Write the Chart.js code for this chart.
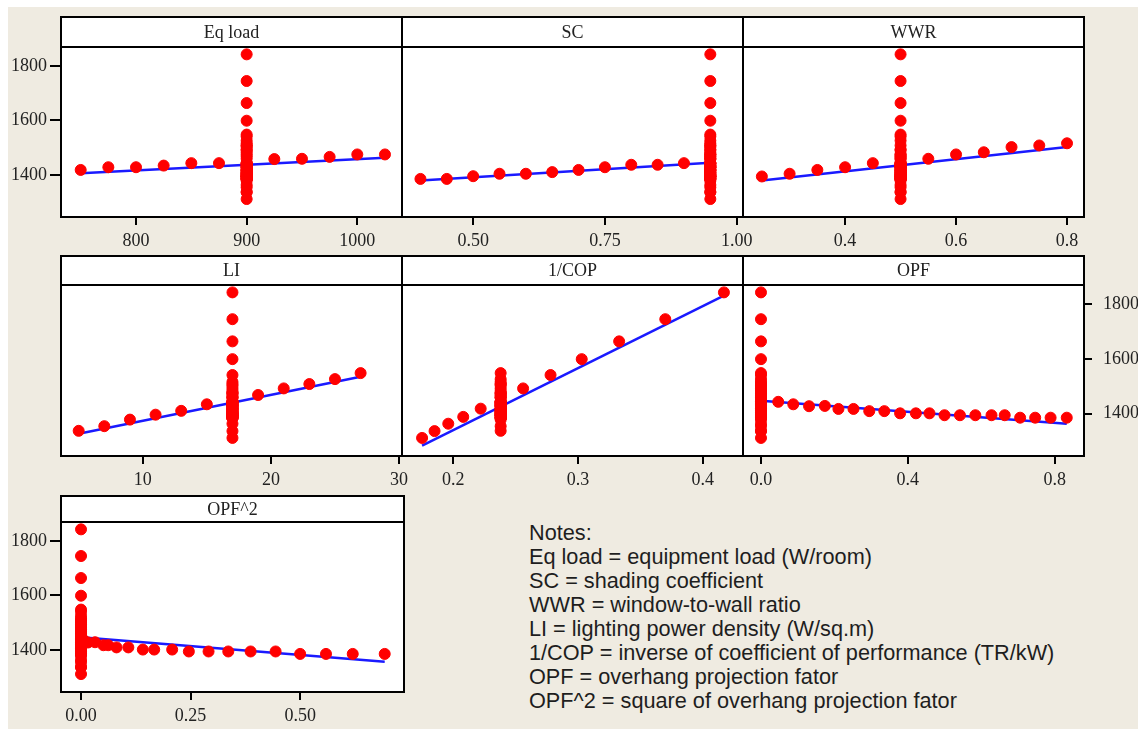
<!DOCTYPE html>
<html>
<head>
<meta charset="utf-8">
<script src="https://cdn.jsdelivr.net/npm/chart.js@4"></script>
<style>
body{margin:0;background:#fff;width:1138px;height:729px;overflow:hidden;position:relative}
#bg{position:absolute;left:8px;top:7px;right:0;bottom:0;background:#efebe1}
.panel{position:absolute}
#notes{position:absolute;left:529px;top:521px;font:21.7px/24px "Liberation Sans",Arial,sans-serif;color:#1e1e1e;white-space:pre}
</style>
</head>
<body>
<div id="bg"></div>
<div id="notes"></div>
<script>
// shared response axis (cooling load)
const yTicks = [1400, 1600, 1800];
const yMin = 1245, yMax = 1870;

// base case run, every factor at its middle level
const baseLoad = [1440];

// Eq load
const eqX = [750, 775, 800, 825, 850, 875, 925, 950, 975, 1000, 1025];
const eqY = [1418, 1428, 1428, 1434, 1443, 1443, 1458, 1459, 1466, 1475, 1475];
const eqBase = 900;
const eqFitX = [750, 1025];
const eqFitY = [1406, 1463];
const eqTicks = [800, 900, 1000];

// SC
const scX = [0.40, 0.45, 0.50, 0.55, 0.60, 0.65, 0.70, 0.75, 0.80, 0.85, 0.90];
const scY = [1385, 1385, 1395, 1404, 1404, 1410, 1418, 1428, 1437, 1437, 1443];
const scBase = 0.95;
const scFitX = [0.40, 0.95];
const scFitY = [1379, 1444];
const scTicks = [0.50, 0.75, 1.00];

// WWR
const wwrX = [0.25, 0.30, 0.35, 0.40, 0.45, 0.55, 0.60, 0.65, 0.70, 0.75, 0.80];
const wwrY = [1394, 1404, 1418, 1428, 1443, 1459, 1475, 1483, 1502, 1508, 1516];
const wwrBase = 0.5;
const wwrFitX = [0.25, 0.80];
const wwrFitY = [1379, 1502];
const wwrTicks = [0.4, 0.6, 0.8];

// LI
const liX = [5, 7, 9, 11, 13, 15, 19, 21, 23, 25, 27];
const liY = [1337, 1354, 1378, 1396, 1410, 1434, 1468, 1492, 1508, 1526, 1548];
const liBase = 17;
const liFitX = [5, 27];
const liFitY = [1326, 1535];
const liTicks = [10, 20, 30];

// 1/COP
const copX = [0.175, 0.185, 0.196, 0.208, 0.222, 0.256, 0.278, 0.303, 0.333, 0.370, 0.417];
const copY = [1311, 1336, 1363, 1388, 1418, 1492, 1541, 1599, 1664, 1745, 1843];
const copBase = 0.238;
const copFitX = [0.175, 0.417];
const copFitY = [1283, 1831];
const copTicks = [0.2, 0.3, 0.4];

// OPF
const opfX = [0.047, 0.088, 0.131, 0.174, 0.211, 0.252, 0.295, 0.336, 0.379, 0.422,
              0.459, 0.500, 0.542, 0.584, 0.628, 0.664, 0.706, 0.747, 0.789, 0.833];
const opfY = [1443, 1434, 1427, 1428, 1417, 1417, 1409, 1409, 1401, 1401,
              1401, 1394, 1394, 1394, 1394, 1394, 1385, 1385, 1385, 1385];
const opfBase = 0;
const opfFitX = [0, 0.833];
const opfFitY = [1447, 1363];
const opfTicks = [0.0, 0.4, 0.8];

// OPF^2 (same runs as OPF)
const opf2X = [0.002, 0.007, 0.016, 0.032, 0.051, 0.062, 0.081, 0.108, 0.141, 0.167,
               0.208, 0.246, 0.291, 0.336, 0.387, 0.444, 0.500, 0.559, 0.620, 0.693];
const opf2Base = 0;
const opf2FitX = [0, 0.693];
const opf2FitY = [1446, 1356];
const opf2Ticks = [0.00, 0.25, 0.50];

const notes = [
  'Notes:',
  'Eq load = equipment load (W/room)',
  'SC = shading coefficient',
  'WWR = window-to-wall ratio',
  'LI = lighting power density (W/sq.m)',
  '1/COP = inverse of coefficient of performance (TR/kW)',
  'OPF = overhang projection fator',
  'OPF^2 = square of overhang projection fator'
];
document.getElementById('notes').textContent = notes.join('\n');

const factors = [
  { name: 'Eq load', group: 'eq', x: eqX, y: eqY, base: eqBase, fitX: eqFitX, fitY: eqFitY, ticks: eqTicks, dec: 0, min: 732.2, max: 1040.4 },
  { name: 'SC', group: 'sc', x: scX, y: scY, base: scBase, fitX: scFitX, fitY: scFitY, ticks: scTicks, dec: 2, min: 0.365, max: 1.012 },
  { name: 'WWR', group: 'wwr', x: wwrX, y: wwrY, base: wwrBase, fitX: wwrFitX, fitY: wwrFitY, ticks: wwrTicks, dec: 1, min: 0.216, max: 0.8306 },
  { name: 'LI', group: 'li', x: liX, y: liY, base: liBase, fitX: liFitX, fitY: liFitY, ticks: liTicks, dec: 0, min: 3.62, max: 30.23 },
  { name: '1/COP', group: 'cop', x: copX, y: copY, base: copBase, fitX: copFitX, fitY: copFitY, ticks: copTicks, dec: 1, min: 0.1589, max: 0.4323 },
  { name: 'OPF', group: 'opf', x: opfX, y: opfY, base: opfBase, fitX: opfFitX, fitY: opfFitY, ticks: opfTicks, dec: 1, min: -0.049, max: 0.880 },
  { name: 'OPF^2', group: 'opf', x: opf2X, y: opfY, base: opf2Base, fitX: opf2FitX, fitY: opf2FitY, ticks: opf2Ticks, dec: 2, min: -0.0457, max: 0.737, dup: true }
];

// page boxes of the plot areas, header strip height, y axis side
const places = [
  { L: 61, R: 402, T: 47, B: 217, h: 30, side: 'left' },
  { L: 402, R: 743, T: 47, B: 217, h: 30 },
  { L: 743, R: 1084, T: 47, B: 217, h: 30 },
  { L: 61, R: 402, T: 285, B: 456, h: 29 },
  { L: 402, R: 743, T: 285, B: 456, h: 29 },
  { L: 743, R: 1084, T: 285, B: 456, h: 29, side: 'right' },
  { L: 61, R: 404, T: 522, B: 692, h: 26, side: 'left' }
];

const framePlugin = {
  id: 'frame',
  beforeDraw(chart) {
    const { ctx, chartArea: a } = chart;
    ctx.save();
    ctx.fillStyle = '#fff';
    ctx.fillRect(a.left, a.top, a.width, a.height);
    ctx.restore();
  },
  afterDraw(chart, args, opts) {
    const { ctx, chartArea: a } = chart;
    ctx.save();
    ctx.fillStyle = '#fff';
    ctx.fillRect(a.left, a.top - opts.h, a.width, opts.h);
    ctx.lineWidth = 2;
    ctx.strokeStyle = '#000';
    ctx.strokeRect(a.left, a.top - opts.h, a.width, opts.h);
    ctx.strokeRect(a.left, a.top, a.width, a.height);
    ctx.fillStyle = '#222';
    ctx.font = '18px "Liberation Serif"';
    ctx.textAlign = 'center';
    ctx.textBaseline = 'middle';
    ctx.fillText(opts.text, (a.left + a.right) / 2, a.top - opts.h / 2 + 1);
    ctx.restore();
  }
};

Chart.defaults.font.family = '"Liberation Serif", serif';

factors.forEach((f, i) => {
  const p = places[i];
  const w = p.R - p.L + 120, h = p.B - p.T + 85;
  const div = document.createElement('div');
  div.className = 'panel';
  div.style.cssText = `left:${p.L - 60}px;top:${p.T - 40}px;width:${w}px;height:${h}px`;
  const cv = document.createElement('canvas');
  cv.width = w; cv.height = h;
  div.appendChild(cv);
  document.body.insertBefore(div, document.getElementById('notes'));

  // runs where this factor sat at its base level
  let column = baseLoad.slice();
  factors.forEach(o => {
    if (o.group !== f.group && !o.dup) column = column.concat(o.y);
  });
  const pts = f.x.map((v, k) => ({ x: v, y: f.y[k] }))
    .concat(column.map(v => ({ x: f.base, y: v })));
  const fit = f.fitX.map((v, k) => ({ x: v, y: f.fitY[k] }));

  const side = p.side;
  new Chart(cv, {
    type: 'scatter',
    data: {
      datasets: [
        { data: pts, pointRadius: 5.5, pointBorderWidth: 1,
          pointBackgroundColor: '#ff0000', pointBorderColor: '#ff0000' },
        { data: fit, showLine: true, pointRadius: 0, borderColor: '#1a1aff', borderWidth: 2.5 }
      ]
    },
    options: {
      responsive: false,
      animation: false,
      events: [],
      layout: {
        autoPadding: false,
        padding: { top: 40, bottom: 0, left: side === 'left' ? 0 : 60, right: side === 'right' ? 0 : 60 }
      },
      plugins: {
        legend: { display: false },
        tooltip: { enabled: false },
        frame: { text: f.name, h: p.h }
      },
      scales: {
        x: {
          type: 'linear', min: f.min, max: f.max,
          afterBuildTicks: s => { s.ticks = f.ticks.map(v => ({ value: v })); },
          afterFit: s => { s.height = 45; s.paddingLeft = 0; s.paddingRight = 0; },
          grid: { drawOnChartArea: false, drawTicks: true, tickLength: 8, color: '#000', lineWidth: 2 },
          border: { display: false },
          ticks: { padding: 5, color: '#222', font: { size: 18 }, maxRotation: 0, autoSkip: false,
                   callback: v => Number(v).toFixed(f.dec) }
        },
        y: {
          type: 'linear', min: yMin, max: yMax,
          display: !!side, position: side || 'left',
          afterBuildTicks: s => { s.ticks = yTicks.map(v => ({ value: v })); },
          afterFit: s => { if (s.options.display) { s.width = 60; } s.paddingTop = 0; s.paddingBottom = 0; },
          grid: { drawOnChartArea: false, drawTicks: true, tickLength: side === 'right' ? 8 : 11, color: '#000', lineWidth: 2 },
          border: { display: false },
          ticks: { padding: side === 'right' ? 11 : 3, color: '#222', font: { size: 18 },
                   callback: v => String(v) }
        }
      }
    },
    plugins: [framePlugin]
  });
});
</script>
</body>
</html>
